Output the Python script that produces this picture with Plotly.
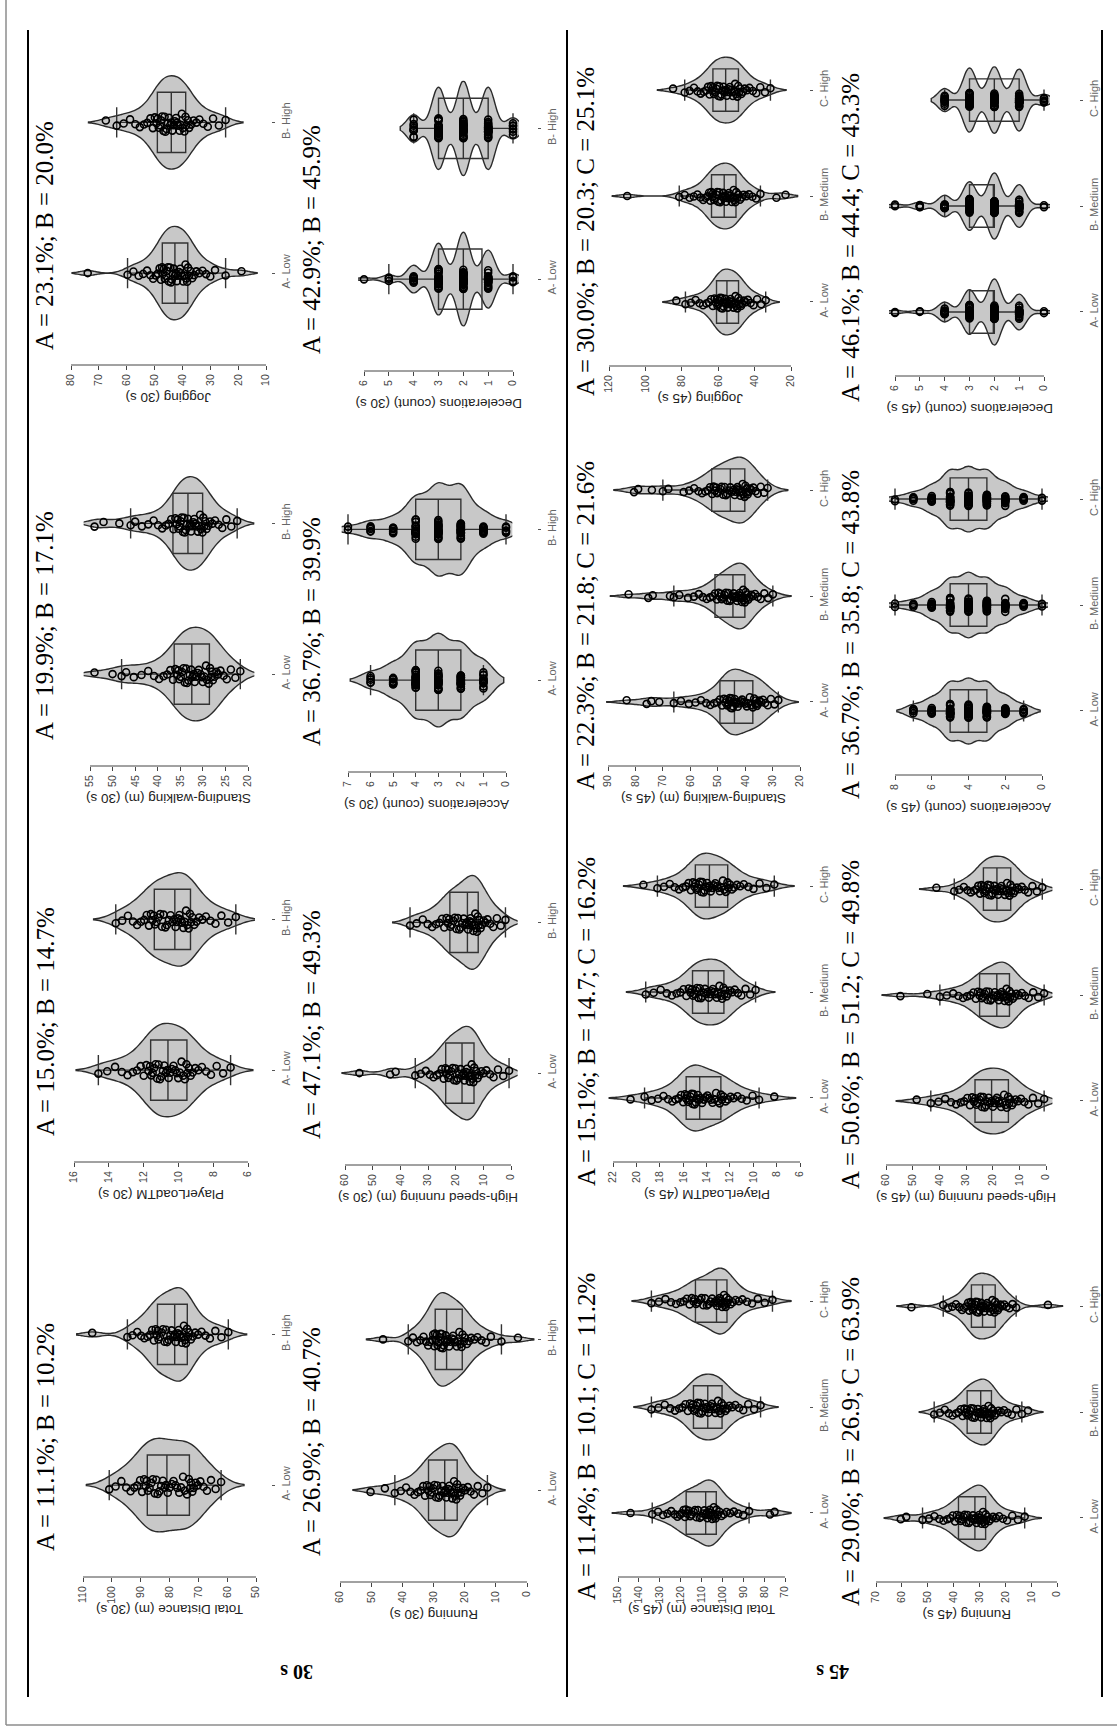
import numpy as np
import plotly.graph_objects as go

W, H = 1117, 1727

# ---------------- data ----------------
CATS2 = ["A- Low", "B- High"]
CATS3 = ["A- Low", "B- Medium", "C- High"]

# ----- 30 s -----
jog30_a = [18.8, 24.5, 28.3, 30.0, 31.5, 32.8, 34.0, 35.0, 35.8, 36.5, 37.1, 37.6, 38.0, 38.3,
           38.6, 38.9, 39.3, 39.7, 40.1, 40.5, 40.8, 41.2, 41.6, 42.0, 42.4, 42.7,
           43.1, 43.4, 43.8, 44.1, 44.5, 44.9, 45.2, 45.6, 45.9, 46.3, 46.7, 47.0,
           47.3, 47.7, 48.2, 48.8, 49.6, 50.5, 51.5, 52.7, 54.1, 55.7, 57.6, 59.7, 74]
jog30_b = [24.5, 26.9, 29.0, 30.9, 32.5, 33.9, 35.0, 36.0, 36.9, 37.6, 38.1, 38.6,
           38.9, 39.3, 39.8, 40.2, 40.6, 41.0, 41.5, 41.9, 42.3, 42.7, 43.2, 43.6,
           44.0, 44.4, 44.8, 45.2, 45.7, 46.1, 46.4, 46.8, 47.3, 47.7, 48.1, 48.5,
           48.9, 49.3, 49.9, 50.6, 51.5, 52.6, 53.8, 55.3, 56.9, 58.8, 61.1, 63.6, 67.5]
dec30_a = [0, 0, 0, 0,
           1, 1, 1, 1, 1, 1, 1, 1, 1, 1, 1, 1, 1, 1, 1, 1, 1, 1, 1, 1, 1,
           2, 2, 2, 2, 2, 2, 2, 2, 2, 2, 2, 2, 2, 2, 2, 2, 2, 2, 2, 2, 2, 2, 2, 2, 2, 2, 2, 2, 2, 2, 2, 2, 2, 2,
           3, 3, 3, 3, 3, 3, 3, 3, 3, 3, 3, 3, 3, 3, 3, 3, 3, 3, 3, 3, 3, 3, 3, 3, 3, 3,
           4, 4, 4, 4, 4, 4, 4, 4, 4, 4, 5, 5, 5, 6]
dec30_b = [0, 0, 0, 0, 0, 0, 0,
           1, 1, 1, 1, 1, 1, 1, 1, 1, 1, 1, 1, 1, 1, 1, 1, 1, 1, 1, 1, 1, 1, 1, 1, 1, 1, 1,
           2, 2, 2, 2, 2, 2, 2, 2, 2, 2, 2, 2, 2, 2, 2, 2, 2, 2, 2, 2, 2, 2, 2, 2, 2, 2, 2, 2, 2, 2, 2,
           3, 3, 3, 3, 3, 3, 3, 3, 3, 3, 3, 3, 3, 3, 3, 3, 3, 3, 3, 3, 3, 3, 3, 3, 3, 3, 3,
           4, 4, 4, 4, 4, 4, 4, 4, 4]
sw30_a = [21.7, 22.8, 23.8, 24.7, 25.4, 26.1, 26.6, 27.0, 27.4, 27.8, 28.0, 28.2,
          28.4, 28.7, 29.1, 29.3, 29.7, 30.0, 30.2, 30.5, 30.9, 31.1, 31.5, 31.8,
          32.0, 32.3, 32.6, 32.9, 33.2, 33.5, 33.7, 34.0, 34.3, 34.6, 34.9, 35.2,
          35.4, 35.7, 36.1, 36.6, 37.2, 37.9, 38.7, 39.7, 40.8, 42.1, 43.6, 45.3, 47, 48, 50, 54]
sw30_b = [22.4, 23.7, 24.8, 25.7, 26.5, 27.3, 27.9, 28.4, 28.8, 29.2, 29.5, 29.7,
          29.9, 30.1, 30.4, 30.6, 30.9, 31.1, 31.4, 31.6, 31.9, 32.1, 32.4, 32.6,
          32.8, 33.0, 33.3, 33.5, 33.8, 34.0, 34.2, 34.4, 34.7, 34.9, 35.2, 35.4,
          35.6, 35.8, 36.1, 36.5, 37.0, 37.6, 38.2, 39.0, 39.9, 40.9, 42.1, 43.5, 45, 46, 48.5, 52, 54]
acc30_a = [1, 1, 1, 1, 1, 1, 1, 1, 1, 1, 1, 1,
           2, 2, 2, 2, 2, 2, 2, 2, 2, 2, 2, 2, 2, 2, 2, 2, 2, 2, 2, 2, 2, 2,
           3, 3, 3, 3, 3, 3, 3, 3, 3, 3, 3, 3, 3, 3, 3, 3, 3, 3, 3, 3, 3, 3, 3, 3, 3, 3, 3,
           4, 4, 4, 4, 4, 4, 4, 4, 4, 4, 4, 4, 4, 4, 4, 4, 4, 4, 4, 4, 4, 4,
           5, 5, 5, 5, 5, 5, 5, 5, 5, 5, 6, 6, 6, 6, 6]
acc30_b = [0, 0, 0, 0, 0, 1, 1, 1, 1, 1, 1, 1, 1, 1, 1,
           2, 2, 2, 2, 2, 2, 2, 2, 2, 2, 2, 2, 2, 2, 2, 2, 2, 2, 2, 2, 2, 2, 2, 2, 2, 2,
           3, 3, 3, 3, 3, 3, 3, 3, 3, 3, 3, 3, 3, 3, 3, 3, 3, 3, 3, 3, 3, 3, 3, 3, 3, 3,
           4, 4, 4, 4, 4, 4, 4, 4, 4, 4, 4, 4, 4, 4, 4, 4, 4, 4, 4,
           5, 5, 5, 5, 5, 5, 5, 6, 6, 6, 6, 6, 7, 7]
pl30_a = [7.0, 7.43, 7.8, 8.13, 8.4, 8.65, 8.85, 9.03, 9.18, 9.3, 9.4, 9.48,
          9.54, 9.63, 9.73, 9.82, 9.92, 10.01, 10.09, 10.18, 10.28, 10.37, 10.47, 10.56,
          10.64, 10.72, 10.81, 10.89, 10.98, 11.06, 11.14, 11.22, 11.31, 11.39, 11.48, 11.56,
          11.63, 11.72, 11.84, 11.99, 12.17, 12.38, 12.62, 12.92, 13.25, 13.64, 14.09, 14.6]
pl30_b = [6.7, 7.14, 7.53, 7.87, 8.16, 8.42, 8.62, 8.81, 8.96, 9.09, 9.2, 9.27,
          9.34, 9.41, 9.49, 9.56, 9.64, 9.71, 9.79, 9.86, 9.94, 10.01, 10.09, 10.16,
          10.25, 10.34, 10.45, 10.55, 10.66, 10.75, 10.85, 10.94, 11.05, 11.15, 11.26, 11.35,
          11.42, 11.49, 11.58, 11.69, 11.82, 11.97, 12.15, 12.37, 12.61, 12.9, 13.23, 13.6]
hsr30_a = [0.7, 2.8, 4.7, 6.3, 7.6, 8.9, 9.9, 10.7, 11.5, 12.1, 12.6, 13.0,
           13.3, 13.6, 13.9, 14.2, 14.6, 14.9, 15.2, 15.5, 15.9, 16.2, 16.5, 16.8,
           17.2, 17.7, 18.2, 18.7, 19.2, 19.7, 20.1, 20.6, 21.1, 21.6, 22.1, 22.6,
           22.9, 23.3, 23.7, 24.3, 25.0, 25.9, 26.8, 28.0, 29.3, 30.8, 32.6, 34.6, 41.7, 43.7, 54.8]
hsr30_b = [2.0, 3.7, 5.1, 6.4, 7.5, 8.5, 9.3, 9.9, 10.5, 11.0, 11.4, 11.7,
           12.0, 12.3, 12.6, 12.9, 13.3, 13.6, 13.9, 14.2, 14.6, 14.9, 15.2, 15.5,
           16.0, 16.5, 17.1, 17.6, 18.2, 18.7, 19.2, 19.7, 20.3, 20.8, 21.4, 21.9,
           22.3, 22.8, 23.3, 24.1, 24.9, 25.9, 27.1, 28.5, 30.1, 31.9, 34.1, 36.5]
td30_a = [62.1, 64.0, 65.6, 67.0, 68.2, 69.3, 70.2, 70.9, 71.6, 72.1, 72.6, 72.9,
          73.3, 73.9, 74.7, 75.3, 76.0, 76.6, 77.3, 77.9, 78.6, 79.2, 80.0, 80.6,
          81.2, 81.7, 82.3, 82.9, 83.5, 84.1, 84.6, 85.1, 85.8, 86.3, 86.9, 87.5,
          87.9, 88.3, 88.8, 89.5, 90.2, 91.2, 92.2, 93.5, 95.0, 96.7, 98.7, 100.9]
td30_b = [59.6, 62.0, 64.1, 66.0, 67.5, 68.9, 70.1, 71.1, 71.9, 72.6, 73.2, 73.6,
          73.9, 74.3, 74.6, 75.0, 75.4, 75.7, 76.0, 76.4, 76.8, 77.1, 77.5, 77.8,
          78.2, 78.7, 79.3, 79.7, 80.3, 80.8, 81.2, 81.7, 82.3, 82.7, 83.3, 83.8,
          84.1, 84.4, 84.8, 85.4, 86.0, 86.8, 87.6, 88.7, 89.8, 91.2, 92.8, 94.6, 106.8]
run30_a = [12.7, 14.3, 15.8, 17.0, 18.1, 19.0, 19.8, 20.5, 21.1, 21.5, 21.9, 22.2,
           22.4, 22.7, 23.1, 23.4, 23.7, 24.0, 24.3, 24.6, 24.9, 25.2, 25.6, 25.9,
           26.2, 26.6, 27.1, 27.5, 28.0, 28.4, 28.8, 29.2, 29.7, 30.1, 30.6, 31.0,
           31.3, 31.6, 32.1, 32.7, 33.3, 34.1, 35.0, 36.1, 37.4, 38.8, 40.5, 42.4, 45.6, 50.2]
run30_b = [2.9, 8.2, 11.6, 13.2, 14.6, 15.9, 16.9, 17.9, 18.6, 19.3, 19.9, 20.3, 20.7, 21.0,
           21.3, 21.7, 22.1, 22.5, 23.0, 23.4, 23.7, 24.1, 24.6, 25.0, 25.4, 25.8,
           26.1, 26.4, 26.7, 27.0, 27.3, 27.6, 27.8, 28.1, 28.4, 28.7, 29.0, 29.3,
           29.5, 29.7, 30.1, 30.5, 31.1, 31.7, 32.4, 33.2, 34.2, 35.3, 36.6, 38.1, 46.2]

# ----- 45 s -----
jog45_a = [33.9, 36.4, 38.6, 40.6, 42.2, 43.7, 44.9, 45.9, 46.8, 47.5, 48.1, 48.6,
           48.9, 49.5, 50.0, 50.5, 51.1, 51.6, 52.1, 52.6, 53.2, 53.7, 54.2, 54.7,
           55.2, 55.7, 56.2, 56.6, 57.1, 57.6, 58.0, 58.5, 59.0, 59.4, 59.9, 60.4,
           60.8, 61.3, 62.0, 62.9, 63.9, 65.1, 66.5, 68.3, 70.2, 72.4, 75.0, 78.0, 83]
jog45_b = [23, 28, 36.8, 39.2, 41.2, 43.1, 44.6, 46.0, 47.1, 48.1, 48.9, 49.6, 50.1, 50.6,
           50.9, 51.5, 52.0, 52.5, 53.1, 53.6, 54.1, 54.6, 55.2, 55.7, 56.2, 56.7,
           57.3, 57.8, 58.4, 58.9, 59.5, 60.0, 60.6, 61.1, 61.7, 62.2, 62.8, 63.3,
           63.8, 64.3, 65.0, 65.9, 67.0, 68.2, 69.7, 71.4, 73.4, 75.7, 78.4, 81.4, 110]
jog45_c = [31.3, 34.3, 36.9, 39.1, 41.0, 42.8, 44.2, 45.4, 46.4, 47.3, 48.0, 48.5,
           49.0, 49.5, 50.1, 50.7, 51.3, 51.9, 52.4, 53.0, 53.6, 54.2, 54.8, 55.3,
           55.9, 56.4, 57.1, 57.6, 58.3, 58.8, 59.4, 59.9, 60.6, 61.1, 61.8, 62.3,
           62.8, 63.2, 63.9, 64.7, 65.6, 66.7, 68.0, 69.6, 71.3, 73.3, 75.7, 78.4, 84.8]
dec45_a = [0, 0,
           1, 1, 1, 1, 1, 1, 1, 1, 1, 1, 1, 1, 1, 1, 1, 1, 1, 1, 1, 1,
           2, 2, 2, 2, 2, 2, 2, 2, 2, 2, 2, 2, 2, 2, 2, 2, 2, 2, 2, 2, 2, 2, 2, 2, 2, 2, 2, 2, 2, 2, 2, 2, 2, 2, 2, 2, 2,
           3, 3, 3, 3, 3, 3, 3, 3, 3, 3, 3, 3, 3, 3, 3, 3, 3, 3, 3, 3, 3, 3, 3, 3, 3,
           4, 4, 4, 4, 4, 4, 4, 4, 4, 4, 4, 5, 5, 6, 6]
dec45_b = [0, 0,
           1, 1, 1, 1, 1, 1, 1, 1, 1, 1, 1, 1, 1, 1, 1, 1, 1, 1, 1, 1, 1, 1,
           2, 2, 2, 2, 2, 2, 2, 2, 2, 2, 2, 2, 2, 2, 2, 2, 2, 2, 2, 2, 2, 2, 2, 2, 2, 2, 2, 2, 2, 2, 2, 2, 2, 2,
           3, 3, 3, 3, 3, 3, 3, 3, 3, 3, 3, 3, 3, 3, 3, 3, 3, 3, 3, 3, 3, 3, 3, 3, 3,
           4, 4, 4, 4, 4, 4, 4, 4, 4, 4, 4, 5, 5, 5, 5, 6, 6]
dec45_c = [0, 0, 0, 0, 0,
           1, 1, 1, 1, 1, 1, 1, 1, 1, 1, 1, 1, 1, 1, 1, 1, 1, 1, 1, 1, 1, 1, 1, 1, 1, 1, 1,
           2, 2, 2, 2, 2, 2, 2, 2, 2, 2, 2, 2, 2, 2, 2, 2, 2, 2, 2, 2, 2, 2, 2, 2, 2, 2, 2, 2, 2,
           3, 3, 3, 3, 3, 3, 3, 3, 3, 3, 3, 3, 3, 3, 3, 3, 3, 3, 3, 3, 3, 3, 3, 3, 3, 3, 3, 3,
           4, 4, 4, 4, 4, 4, 4, 4, 4, 4]
sw45_a = [27.9, 29.3, 30.6, 31.7, 32.7, 33.5, 34.2, 34.8, 35.3, 35.7, 36.1, 36.3,
          36.7, 37.2, 37.8, 38.3, 38.9, 39.4, 40.0, 40.5, 41.1, 41.6, 42.2, 42.7,
          43.1, 43.4, 43.8, 44.0, 44.4, 44.7, 44.9, 45.2, 45.6, 45.8, 46.2, 46.5,
          46.7, 47.2, 47.7, 48.4, 49.2, 50.2, 51.3, 52.7, 54.2, 56.1, 58.1, 60.5,
          63.4, 66, 71.3, 74.2, 75.9, 83.2]
sw45_b = [29.9, 31.6, 33.0, 34.3, 35.4, 36.4, 37.2, 37.8, 38.4, 38.9, 39.3, 39.6,
          39.8, 40.1, 40.4, 40.7, 40.9, 41.2, 41.5, 41.7, 42.0, 42.3, 42.6, 42.9,
          43.2, 43.7, 44.2, 44.7, 45.2, 45.6, 46.1, 46.5, 47.0, 47.5, 48.0, 48.5,
          48.8, 49.2, 49.7, 50.3, 51.0, 51.8, 52.8, 54.0, 55.4, 56.9, 58.7, 60.8,
          64, 66, 67.4, 73.7, 75.3, 82.5]
sw45_c = [31.8, 33.1, 34.3, 35.4, 36.2, 37.0, 37.6, 38.2, 38.7, 39.1, 39.4, 39.6,
          39.9, 40.2, 40.6, 40.9, 41.3, 41.7, 42.0, 42.4, 42.8, 43.1, 43.5, 43.8,
          44.3, 44.8, 45.4, 45.9, 46.5, 47.0, 47.5, 48.0, 48.6, 49.1, 49.7, 50.2,
          50.6, 51.0, 51.5, 52.0, 52.8, 53.6, 54.5, 55.7, 57.0, 58.6, 60.4, 62.4,
          68, 70, 74, 79, 80.5]
acc45_a = [1, 1, 1, 1, 1,
           2, 2, 2, 2, 2, 2, 2, 2, 2, 2, 2, 2,
           3, 3, 3, 3, 3, 3, 3, 3, 3, 3, 3, 3, 3, 3, 3, 3, 3, 3, 3, 3, 3, 3,
           4, 4, 4, 4, 4, 4, 4, 4, 4, 4, 4, 4, 4, 4, 4, 4, 4, 4, 4, 4, 4, 4, 4, 4,
           5, 5, 5, 5, 5, 5, 5, 5, 5, 5, 5, 5, 5, 5, 5, 5, 5, 5, 5, 5, 5, 5,
           6, 6, 6, 6, 6, 6, 6, 6, 6, 6, 7, 7, 7, 7, 7]
acc45_b = [0, 0, 1, 1, 1, 1, 1, 1,
           2, 2, 2, 2, 2, 2, 2, 2, 2, 2, 2, 2, 2,
           3, 3, 3, 3, 3, 3, 3, 3, 3, 3, 3, 3, 3, 3, 3, 3, 3, 3, 3, 3,
           4, 4, 4, 4, 4, 4, 4, 4, 4, 4, 4, 4, 4, 4, 4, 4, 4, 4, 4, 4, 4, 4, 4, 4,
           5, 5, 5, 5, 5, 5, 5, 5, 5, 5, 5, 5, 5, 5, 5, 5, 5, 5, 5, 5,
           6, 6, 6, 6, 6, 6, 6, 6, 6, 6, 7, 7, 7, 7, 8, 8]
acc45_c = [0, 0, 1, 1, 1, 1, 1, 1,
           2, 2, 2, 2, 2, 2, 2, 2, 2, 2, 2, 2,
           3, 3, 3, 3, 3, 3, 3, 3, 3, 3, 3, 3, 3, 3, 3, 3, 3, 3, 3, 3, 3,
           4, 4, 4, 4, 4, 4, 4, 4, 4, 4, 4, 4, 4, 4, 4, 4, 4, 4, 4, 4, 4, 4, 4,
           5, 5, 5, 5, 5, 5, 5, 5, 5, 5, 5, 5, 5, 5, 5, 5, 5, 5, 5, 5, 5,
           6, 6, 6, 6, 6, 6, 6, 6, 6, 6, 7, 7, 7, 7, 7, 8, 8]
pl45_a = [8.2, 9.5, 10.06, 10.56, 10.99, 11.35, 11.68, 11.94, 12.17, 12.37, 12.54, 12.67, 12.77,
          12.87, 13.02, 13.18, 13.32, 13.48, 13.63, 13.77, 13.92, 14.08, 14.22, 14.38, 14.53,
          14.64, 14.73, 14.83, 14.92, 15.02, 15.11, 15.19, 15.28, 15.38, 15.47, 15.57, 15.66,
          15.74, 15.84, 15.99, 16.17, 16.38, 16.64, 16.92, 17.28, 17.68, 18.15, 18.69, 19.3, 20.5]
pl45_b = [9.8, 10.26, 10.66, 11.02, 11.31, 11.58, 11.8, 11.99, 12.15, 12.28, 12.39, 12.47,
          12.55, 12.66, 12.78, 12.89, 13.01, 13.12, 13.23, 13.34, 13.46, 13.57, 13.69, 13.8,
          13.9, 14.01, 14.13, 14.24, 14.36, 14.47, 14.58, 14.69, 14.81, 14.92, 15.04, 15.15,
          15.24, 15.36, 15.52, 15.72, 15.96, 16.24, 16.56, 16.96, 17.4, 17.92, 18.52, 19.2]
pl45_c = [8.2, 8.87, 9.46, 9.98, 10.41, 10.81, 11.12, 11.4, 11.64, 11.83, 11.99, 12.11,
          12.21, 12.34, 12.48, 12.6, 12.74, 12.86, 12.99, 13.11, 13.25, 13.37, 13.51, 13.64,
          13.75, 13.84, 13.95, 14.05, 14.16, 14.25, 14.35, 14.44, 14.55, 14.65, 14.76, 14.85,
          14.93, 15.03, 15.16, 15.33, 15.53, 15.76, 16.02, 16.35, 16.72, 17.14, 17.64, 18.2, 19.4]
hsr45_a = [0.7, 2.9, 4.9, 6.6, 8.1, 9.4, 10.5, 11.4, 12.2, 12.8, 13.4, 13.8,
           14.2, 14.7, 15.2, 15.7, 16.3, 16.8, 17.3, 17.8, 18.4, 18.9, 19.4, 19.9,
           20.4, 20.9, 21.5, 22.0, 22.5, 23.0, 23.5, 24.0, 24.5, 25.0, 25.6, 26.1,
           26.5, 27.0, 27.7, 28.5, 29.5, 30.7, 32.0, 33.7, 35.6, 37.8, 40.3, 43.2, 48.5]
hsr45_b = [0.7, 2.9, 4.8, 6.5, 7.9, 9.1, 10.2, 11.1, 11.8, 12.5, 13.0, 13.4,
           13.7, 14.0, 14.4, 14.8, 15.2, 15.5, 15.9, 16.2, 16.6, 17.0, 17.4, 17.7,
           18.2, 18.7, 19.2, 19.8, 20.3, 20.8, 21.4, 21.9, 22.4, 23.0, 23.5, 24.0,
           24.5, 24.9, 25.5, 26.3, 27.2, 28.3, 29.6, 31.1, 32.8, 34.8, 37.2, 39.8, 44.5, 54.6]
hsr45_c = [1.4, 3.4, 5.1, 6.7, 8.0, 9.1, 10.1, 10.9, 11.6, 12.2, 12.6, 13.0,
           13.3, 13.7, 14.2, 14.6, 15.0, 15.4, 15.9, 16.3, 16.7, 17.1, 17.6, 18.0,
           18.4, 18.8, 19.3, 19.7, 20.1, 20.5, 21.0, 21.4, 21.8, 22.2, 22.7, 23.1,
           23.4, 23.7, 24.2, 24.7, 25.4, 26.2, 27.1, 28.2, 29.4, 30.8, 32.5, 34.4, 41.1]
td45_a = [75, 77.2, 87.2, 90.0, 92.4, 94.5, 96.3, 98.0, 99.3, 100.4, 101.4, 102.2, 102.8, 103.3,
          103.7, 104.1, 104.5, 104.9, 105.3, 105.7, 106.0, 106.4, 106.8, 107.2, 107.6, 108.0,
          108.6, 109.3, 110.1, 110.8, 111.7, 112.4, 113.1, 113.8, 114.7, 115.4, 116.2, 116.9,
          117.5, 117.9, 118.6, 119.4, 120.4, 121.5, 122.8, 124.5, 126.3, 128.4, 130.8, 133.6, 144]
td45_b = [81.7, 84.8, 87.6, 90.0, 92.0, 93.8, 95.3, 96.6, 97.7, 98.6, 99.4, 99.9,
          100.4, 100.9, 101.5, 102.1, 102.7, 103.3, 103.8, 104.4, 105.0, 105.6, 106.2, 106.7,
          107.3, 107.8, 108.4, 109.0, 109.6, 110.2, 110.7, 111.3, 111.9, 112.5, 113.1, 113.6,
          114.1, 114.7, 115.5, 116.5, 117.7, 119.1, 120.7, 122.7, 125.0, 127.6, 130.6, 134.0]
td45_c = [76.0, 79.7, 83.0, 85.8, 88.2, 90.4, 92.1, 93.7, 95.0, 96.1, 96.9, 97.6,
          98.0, 98.4, 98.8, 99.2, 99.7, 100.1, 100.4, 100.8, 101.3, 101.7, 102.1, 102.5,
          103.1, 103.9, 104.9, 105.7, 106.6, 107.4, 108.3, 109.1, 110.0, 110.8, 111.8, 112.6,
          113.2, 113.8, 114.7, 115.7, 117.0, 118.5, 120.1, 122.2, 124.6, 127.3, 130.4, 134.0]
run45_a = [12.5, 15.1, 17.3, 19.3, 20.9, 22.4, 23.6, 24.7, 25.6, 26.3, 26.9, 27.4,
           27.6, 27.9, 28.3, 28.6, 28.9, 29.2, 29.5, 29.8, 30.1, 30.4, 30.8, 31.1,
           31.5, 32.0, 32.5, 33.0, 33.6, 34.1, 34.6, 35.1, 35.7, 36.2, 36.7, 37.2,
           37.6, 38.1, 38.7, 39.4, 40.3, 41.3, 42.4, 43.9, 45.5, 47.4, 49.5, 52.0, 58.3, 60.4]
run45_b = [11.2, 13.6, 15.7, 17.5, 19.1, 20.5, 21.6, 22.6, 23.5, 24.2, 24.7, 25.2,
           25.5, 25.8, 26.2, 26.5, 26.9, 27.2, 27.6, 27.9, 28.3, 28.6, 29.0, 29.3,
           29.7, 30.1, 30.6, 31.0, 31.5, 31.9, 32.4, 32.8, 33.3, 33.7, 34.2, 34.6,
           34.9, 35.3, 35.8, 36.5, 37.2, 38.1, 39.1, 40.4, 41.8, 43.4, 45.3, 47.5]
run45_c = [3.5, 15.8, 17.2, 18.4, 19.5, 20.4, 21.2, 21.9, 22.4, 22.9, 23.3, 23.7, 23.9,
           24.2, 24.6, 25.0, 25.4, 25.8, 26.2, 26.6, 27.0, 27.4, 27.8, 28.2, 28.6,
           29.0, 29.3, 29.7, 30.0, 30.4, 30.7, 31.1, 31.4, 31.8, 32.1, 32.5, 32.8,
           33.1, 33.4, 33.9, 34.4, 35.1, 35.9, 36.7, 37.8, 39.1, 40.5, 42.1, 44.0, 56.3]

# ----- axis tick values -----
ticks_jog30 = [10, 20, 30, 40, 50, 60, 70, 80]
ticks_dec30 = [0, 1, 2, 3, 4, 5, 6]
ticks_sw30 = [20, 25, 30, 35, 40, 45, 50, 55]
ticks_acc30 = [0, 1, 2, 3, 4, 5, 6, 7]
ticks_pl30 = [6, 8, 10, 12, 14, 16]
ticks_hsr30 = [0, 10, 20, 30, 40, 50, 60]
ticks_td30 = [50, 60, 70, 80, 90, 100, 110]
ticks_run30 = [0, 10, 20, 30, 40, 50, 60]
ticks_jog45 = [20, 40, 60, 80, 100, 120]
ticks_dec45 = [0, 1, 2, 3, 4, 5, 6]
ticks_sw45 = [20, 30, 40, 50, 60, 70, 80, 90]
ticks_acc45 = [0, 2, 4, 6, 8]
ticks_pl45 = [6, 8, 10, 12, 14, 16, 18, 20, 22]
ticks_hsr45 = [0, 10, 20, 30, 40, 50, 60]
ticks_td45 = [70, 80, 90, 100, 110, 120, 130, 140, 150]
ticks_run45 = [0, 10, 20, 30, 40, 50, 60, 70]

# ----- headings / axis titles -----
titles = {
    "jog30": "A = 23.1%; B = 20.0%", "dec30": "A = 42.9%; B = 45.9%",
    "sw30": "A = 19.9%; B = 17.1%", "acc30": "A = 36.7%; B = 39.9%",
    "pl30": "A = 15.0%; B = 14.7%", "hsr30": "A = 47.1%; B = 49.3%",
    "td30": "A = 11.1%; B = 10.2%", "run30": "A = 26.9%; B = 40.7%",
    "jog45": "A = 30.0%; B = 20.3; C = 25.1%", "dec45": "A = 46.1%; B = 44.4; C = 43.3%",
    "sw45": "A = 22.3%; B = 21.8; C = 21.6%", "acc45": "A = 36.7%; B = 35.8; C = 43.8%",
    "pl45": "A = 15.1%; B = 14.7; C = 16.2%", "hsr45": "A = 50.6%; B = 51.2; C = 49.8%",
    "td45": "A = 11.4%; B = 10.1; C = 11.2%", "run45": "A = 29.0%; B = 26.9; C = 63.9%",
}
axis_titles = {
    "jog30": "Jogging (30 s)", "dec30": "Decelerations (count) (30 s)",
    "sw30": "Standing-walking (m) (30 s)", "acc30": "Accelerations (count) (30 s)",
    "pl30": "PlayerLoadTM (30 s)", "hsr30": "High-speed running (m) (30 s)",
    "td30": "Total Distance (m) (30 s)", "run30": "Running (30 s)",
    "jog45": "Jogging (45 s)", "dec45": "Decelerations (count) (45 s)",
    "sw45": "Standing-walking (m) (45 s)", "acc45": "Accelerations (count) (45 s)",
    "pl45": "PlayerLoadTM (45 s)", "hsr45": "High-speed running (m) (45 s)",
    "td45": "Total Distance (m) (45 s)", "run45": "Running (45 s)",
}
row_labels = ["30 s", "45 s"]

# ---------------- panel placement (pixels) ----------------
# key, groups, categories, ticks, column, axis-line y, (x of max tick, x of min tick), kde kind, heading y
panels = [
    ("jog30", [jog30_a, jog30_b], CATS2, ticks_jog30, 0, 365, (71, 266), "c", 236),
    ("dec30", [dec30_a, dec30_b], CATS2, ticks_dec30, 1, 371, (364, 513), "d", 240),
    ("jog45", [jog45_a, jog45_b, jog45_c], CATS3, ticks_jog45, 2, 366, (609, 791), "c", 232),
    ("dec45", [dec45_a, dec45_b, dec45_c], CATS3, ticks_dec45, 3, 376, (895, 1044), "d", 238),
    ("sw30", [sw30_a, sw30_b], CATS2, ticks_sw30, 0, 766, (90, 248), "c", 626),
    ("acc30", [acc30_a, acc30_b], CATS2, ticks_acc30, 1, 772, (348, 506), "a", 632),
    ("sw45", [sw45_a, sw45_b, sw45_c], CATS3, ticks_sw45, 2, 766, (608, 800), "c", 626),
    ("acc45", [acc45_a, acc45_b, acc45_c], CATS3, ticks_acc45, 3, 775, (895, 1042), "a", 635),
    ("pl30", [pl30_a, pl30_b], CATS2, ticks_pl30, 0, 1162, (74, 248), "c", 1022),
    ("hsr30", [hsr30_a, hsr30_b], CATS2, ticks_hsr30, 1, 1165, (345, 511), "c", 1025),
    ("pl45", [pl45_a, pl45_b, pl45_c], CATS3, ticks_pl45, 2, 1162, (613, 800), "c", 1022),
    ("hsr45", [hsr45_a, hsr45_b, hsr45_c], CATS3, ticks_hsr45, 3, 1165, (886, 1046), "c", 1025),
    ("td30", [td30_a, td30_b], CATS2, ticks_td30, 0, 1577, (83, 256), "c", 1437),
    ("run30", [run30_a, run30_b], CATS2, ticks_run30, 1, 1582, (340, 527), "c", 1442),
    ("td45", [td45_a, td45_b, td45_c], CATS3, ticks_td45, 2, 1577, (618, 785), "c", 1437),
    ("run45", [run45_a, run45_b, run45_c], CATS3, ticks_run45, 3, 1582, (876, 1057), "c", 1442),
]
title_x = [45, 311, 586, 850]
catlabel_x = [284, 550, 822, 1092]
PANEL_H = 330

VIOLIN_FILL = "#c8c8c8"
SANS = "Liberation Sans"
SERIF = "Liberation Serif"


def px_x(x):
    return x / W


def px_y(y):
    return 1 - y / H


def kde_bw(vals, kind):
    if kind == "d":
        return 0.27
    if kind == "a":
        return 0.45
    v = np.asarray(vals, float)
    q1, q3 = np.percentile(v, [25, 75])
    s = min(v.std(ddof=1), (q3 - q1) / 1.349)
    return 0.42 * s


fig = go.Figure()
layout = dict(
    width=W, height=H, autosize=False,
    margin=dict(l=0, r=0, t=0, b=0),
    paper_bgcolor="white", plot_bgcolor="rgba(0,0,0,0)",
    showlegend=False, hovermode=False,
    violinmode="overlay", boxmode="overlay",
)
annotations = []
shapes = []

for k, (key, groups, cats, ticks, col, axis_y, (xl, xr), kind, head_y) in enumerate(panels, start=1):
    sfx = "" if k == 1 else str(k)
    xref, yref = "x" + sfx, "y" + sfx
    tmin, tmax = min(ticks), max(ticks)
    span_px = xr - xl
    ppu = span_px / (tmax - tmin)
    pad = 0.04 * span_px
    n = len(cats)
    yrange = [-0.61, 1.58] if n == 2 else [-0.604, 2.51]

    layout["xaxis" + sfx] = dict(
        domain=[px_x(xl - pad), px_x(xr + pad)],
        range=[tmax + pad / ppu, tmin - pad / ppu],
        anchor=yref, tickmode="array", tickvals=ticks, ticktext=[str(t) for t in ticks],
        tickangle=-90, ticks="outside", ticklen=4, tickwidth=1, tickcolor="#444",
        tickfont=dict(family=SANS, size=10.5, color="#444"),
        showgrid=False, zeroline=False, showline=False, fixedrange=True,
    )
    layout["yaxis" + sfx] = dict(
        domain=[px_y(axis_y), px_y(axis_y - PANEL_H)],
        range=yrange, type="category", categoryorder="array", categoryarray=cats,
        side="right", anchor="free", position=px_x(catlabel_x[col] - 13),
        tickangle=-90, ticks="outside", ticklen=3, tickwidth=1, tickcolor="#555",
        ticklabelstandoff=2,
        tickfont=dict(family=SANS, size=11, color="#666"),
        showgrid=False, zeroline=False, showline=False, fixedrange=True,
    )

    for cat, vals in zip(cats, groups):
        yy = [cat] * len(vals)
        fig.add_trace(go.Violin(
            x=vals, y=yy, orientation="h", xaxis=xref, yaxis=yref,
            width=0.62, points=False, box_visible=False, meanline_visible=False,
            bandwidth=kde_bw(vals, kind), spanmode="soft", scalemode="width",
            fillcolor=VIOLIN_FILL, line=dict(color="#2b2b2b", width=1.4),
            hoverinfo="skip",
        ))
        fig.add_trace(go.Box(
            x=vals, y=yy, orientation="h", xaxis=xref, yaxis=yref,
            width=0.4, whiskerwidth=0.5, boxpoints="all", jitter=0.33, pointpos=0,
            fillcolor="rgba(0,0,0,0)", line=dict(color="#333333", width=1.4),
            marker=dict(symbol="circle-open", size=7, color="#000000", line=dict(width=1.6)),
            hoverinfo="skip",
        ))

    # axis line spanning the tick range only (R style)
    shapes.append(dict(type="line", xref=xref, yref=yref + " domain",
                       x0=tmin, x1=tmax, y0=0, y1=0, line=dict(color="#444", width=1)))
    # axis title (upside down)
    annotations.append(dict(text=axis_titles[key], xref=xref, yref=yref + " domain",
                            x=(tmin + tmax) / 2, y=0, yshift=-33, showarrow=False, textangle=180,
                            xanchor="center", yanchor="middle",
                            font=dict(family=SANS, size=13.5, color="#222")))
    # panel heading (reads bottom to top)
    annotations.append(dict(text=titles[key], xref="paper", yref="paper",
                            x=px_x(title_x[col]), y=px_y(head_y), showarrow=False,
                            textangle=-90, xanchor="center", yanchor="middle",
                            font=dict(family=SERIF, size=25, color="#000")))

# row labels
for lab, cx in zip(row_labels, [297, 833]):
    annotations.append(dict(text="<b>" + lab + "</b>", xref="paper", yref="paper",
                            x=px_x(cx), y=px_y(1672), showarrow=False, textangle=180,
                            xanchor="center", yanchor="middle",
                            font=dict(family=SERIF, size=20, color="#000")))

# page frame lines
for lx in [28, 567, 1102]:
    shapes.append(dict(type="line", xref="paper", yref="paper", x0=px_x(lx), x1=px_x(lx),
                       y0=px_y(30), y1=px_y(1697), line=dict(color="#000", width=2)))
shapes.append(dict(type="line", xref="paper", yref="paper", x0=px_x(6), x1=px_x(6),
                   y0=px_y(0), y1=px_y(1725), line=dict(color="#8c8c8c", width=1.5)))
shapes.append(dict(type="line", xref="paper", yref="paper", x0=px_x(6), x1=1,
                   y0=px_y(1725), y1=px_y(1725), line=dict(color="#8c8c8c", width=1.5)))

layout["annotations"] = annotations
layout["shapes"] = shapes
fig.update_layout(**layout)

fig.write_html("out.html", config={"displayModeBar": False, "staticPlot": True},
               post_script="document.body.style.margin='0';document.body.style.overflow='hidden';")
